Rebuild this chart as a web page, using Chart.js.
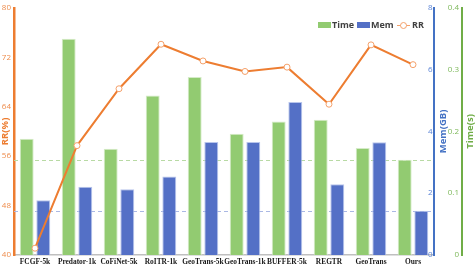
<!DOCTYPE html>
<html>
<head>
<meta charset="utf-8">
<script src="https://cdn.jsdelivr.net/npm/chart.js@4"></script>
<style>
  html, body { margin: 0; padding: 0; background: #fff; }
  canvas { display: block; }
</style>
</head>
<body>
<canvas id="c" width="476" height="268"></canvas>
<script>
const categories = ['FCGF-5k', 'Predator-1k', 'CoFiNet-5k', 'RoITR-1k', 'GeoTrans-5k', 'GeoTrans-1k', 'BUFFER-5k', 'REGTR', 'GeoTrans', 'Ours'];
const timeValues = [0.188, 0.350, 0.172, 0.258, 0.288, 0.196, 0.216, 0.219, 0.173, 0.154];
const memValues = [1.77, 2.21, 2.13, 2.54, 3.66, 3.66, 4.95, 2.29, 3.65, 1.43];
const rrValues = [41.1, 57.7, 66.9, 74.1, 71.4, 69.7, 70.4, 64.4, 74.0, 70.8];
const rrTicks = [40, 48, 56, 64, 72, 80];
const memTicks = [0, 2, 4, 6, 8];
const timeTicks = [0, 0.1, 0.2, 0.3, 0.4];

const ORANGE = '#ED7D31';
const GREEN = '#92CB71';
const BLUE = '#5470C6';
const GREEN_AX = '#70AD47';
const BLUE_AX = '#4472C4';

const refLines = {
  id: 'refLines',
  beforeDatasetsDraw(chart) {
    const { ctx, chartArea } = chart;
    const last = categories.length - 1;
    const yT = chart.scales.yTime.getPixelForValue(timeValues[last]);
    const yM = chart.scales.yMem.getPixelForValue(memValues[last]);
    ctx.save();
    ctx.setLineDash([4, 3]);
    ctx.lineWidth = 1;
    ctx.strokeStyle = '#B8DAA4';
    ctx.beginPath(); ctx.moveTo(chartArea.left, Math.round(yT) + 0.5); ctx.lineTo(chartArea.right, Math.round(yT) + 0.5); ctx.stroke();
    ctx.strokeStyle = '#AAB8E4';
    ctx.beginPath(); ctx.moveTo(chartArea.left, Math.round(yM) + 0.5); ctx.lineTo(chartArea.right, Math.round(yM) + 0.5); ctx.stroke();
    ctx.restore();
  }
};

const titlesLegend = {
  id: 'titlesLegend',
  afterDraw(chart) {
    const { ctx, chartArea } = chart;
    const midY = (chartArea.top + chartArea.bottom) / 2;
    const drawV = (text, x, color) => {
      ctx.save();
      ctx.translate(x, midY);
      ctx.rotate(-Math.PI / 2);
      ctx.font = 'bold 9.5px "Open Sans"';
      ctx.fillStyle = color;
      ctx.textAlign = 'center';
      ctx.textBaseline = 'middle';
      ctx.fillText(text, 0, 0);
      ctx.restore();
    };
    drawV('RR(%)', chart.scales.yRR.left + 5.5, ORANGE);
    drawV('Mem(GB)', chart.scales.yMem.left + 9.5, BLUE_AX);
    drawV('Time(s)', chart.scales.yTime.left + 8, GREEN_AX);

    // legend
    ctx.save();
    const ly = 25;
    ctx.font = 'bold 9px "Open Sans"';
    ctx.textBaseline = 'middle';
    ctx.textAlign = 'left';
    let x = 318;
    ctx.fillStyle = GREEN; ctx.fillRect(x, ly - 3, 13, 6);
    ctx.fillStyle = '#404040'; ctx.fillText('Time', x + 14, ly + 0.5);
    x = 357;
    ctx.fillStyle = BLUE; ctx.fillRect(x, ly - 3, 13, 6);
    ctx.fillStyle = '#404040'; ctx.fillText('Mem', x + 14, ly + 0.5);
    x = 397;
    ctx.strokeStyle = '#F4A06A'; ctx.lineWidth = 1;
    ctx.beginPath(); ctx.moveTo(x, ly + 0.5); ctx.lineTo(x + 13, ly + 0.5); ctx.stroke();
    ctx.fillStyle = '#fff';
    ctx.beginPath(); ctx.arc(x + 6.5, ly + 0.5, 3, 0, Math.PI * 2); ctx.fill(); ctx.stroke();
    ctx.fillStyle = '#404040'; ctx.fillText('RR', x + 15, ly + 0.5);
    ctx.restore();
  }
};

new Chart(document.getElementById('c'), {
  data: {
    labels: categories,
    datasets: [
      {
        type: 'line', label: 'RR', data: rrValues, yAxisID: 'yRR', order: 0,
        borderColor: ORANGE, borderWidth: 2, tension: 0,
        pointRadius: 3, pointBorderWidth: 1, pointBackgroundColor: '#fff', pointBorderColor: '#F4A06A'
      },
      {
        type: 'bar', label: 'Time', data: timeValues, yAxisID: 'yTime', order: 1,
        backgroundColor: GREEN, borderColor: '#D5EBC8', borderWidth: 1,
        barPercentage: 0.84, categoryPercentage: 0.79
      },
      {
        type: 'bar', label: 'Mem', data: memValues, yAxisID: 'yMem', order: 1,
        backgroundColor: BLUE, borderColor: '#B8C5EC', borderWidth: 1,
        barPercentage: 0.84, categoryPercentage: 0.79
      }
    ]
  },
  options: {
    responsive: false,
    animation: false,
    devicePixelRatio: 1,
    layout: { padding: { top: 5, left: 0, right: 0, bottom: 0 } },
    plugins: { legend: { display: false }, tooltip: { enabled: false } },
    scales: {
      x: {
        grid: { display: false, drawTicks: false },
        border: { display: true, color: '#BFBFBF', width: 1.5 },
        ticks: { color: '#1a1a1a', font: { family: '"Liberation Serif"', weight: 'bold', size: 7.4 }, padding: 3, maxRotation: 0, autoSkip: false },
        afterFit(s) { s.height = 13; }
      },
      yRR: {
        position: 'left', min: 40, max: 80,
        afterBuildTicks(s) { s.ticks = rrTicks.map(v => ({ value: v })); },
        grid: { display: false, drawTicks: false },
        border: { display: true, color: ORANGE, width: 2.5 },
        ticks: { color: '#EE8C4C', font: { family: '"Open Sans"', size: 8 }, padding: 3 },
        afterFit(s) { s.width = 14; }
      },
      yMem: {
        position: 'right', weight: 0, min: 0, max: 8,
        afterBuildTicks(s) { s.ticks = memTicks.map(v => ({ value: v })); },
        grid: { display: false, drawTicks: false },
        border: { display: true, color: BLUE_AX, width: 2 },
        ticks: { color: '#5B84D6', font: { family: '"Open Sans"', size: 8 }, padding: -1.5, mirror: true },
        afterFit(s) { s.width = 28; }
      },
      yTime: {
        position: 'right', weight: 1, min: 0, max: 0.4,
        afterBuildTicks(s) { s.ticks = timeTicks.map(v => ({ value: v })); },
        grid: { display: false, drawTicks: false },
        border: { display: true, color: GREEN_AX, width: 2 },
        ticks: { color: '#7DB85A', font: { family: '"Open Sans"', size: 8 }, padding: -3, mirror: true,
                 callback: v => String(v) },
        afterFit(s) { s.width = 14; }
      }
    }
  },
  plugins: [refLines, titlesLegend]
});
</script>
</body>
</html>
